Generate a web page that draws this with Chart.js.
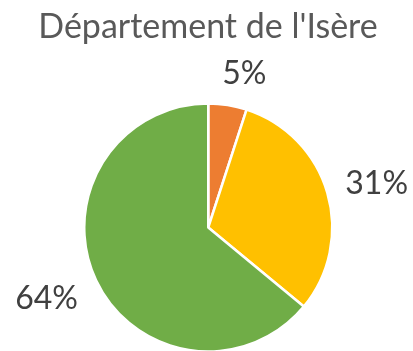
<!DOCTYPE html>
<html>
<head>
<meta charset="utf-8">
<script src="https://cdn.jsdelivr.net/npm/chart.js@4/dist/chart.umd.min.js"></script>
<style>
  html, body { margin: 0; padding: 0; background: #ffffff; overflow: hidden; }
  #wrap { width: 413px; height: 353px; position: relative; }
</style>
</head>
<body>
<div id="wrap"><canvas id="chart" width="413" height="353"></canvas></div>
<script>
// Share of each slice, in percent
const categories = ['A', 'B', 'C'];
const shares = [5, 31, 64];
const sliceColors = ['#ED7D31', '#FFC000', '#70AD47'];
const chartTitle = "Département de l'Isère";

// Draws the title and the percentage labels just outside each slice
const outsideLabels = {
  id: 'outsideLabels',
  afterDatasetsDraw(chart, args, opts) {
    const ctx = chart.ctx;
    ctx.save();
    // title
    ctx.font = opts.titleFont;
    ctx.fillStyle = opts.titleColor;
    ctx.textAlign = 'center';
    ctx.textBaseline = 'alphabetic';
    ctx.fillText(chartTitle, opts.titleX, opts.titleY);

    // slice labels
    ctx.font = opts.labelFont;
    ctx.fillStyle = opts.labelColor;
    ctx.textBaseline = 'middle';
    const meta = chart.getDatasetMeta(0);
    meta.data.forEach((arc, i) => {
      const p = arc.getProps(['x', 'y', 'startAngle', 'endAngle', 'outerRadius'], true);
      const mid = (p.startAngle + p.endAngle) / 2;
      const cos = Math.cos(mid), sin = Math.sin(mid);
      const text = shares[i] + '%';
      const hw = ctx.measureText(text).width / 2;
      const hh = opts.labelHalfHeight;
      const r = p.outerRadius + opts.gap;
      const n = opts.nudge[i] || [0, 0];
      const cx = p.x + cos * r + cos * hw + n[0];
      const cy = p.y + sin * r + sin * hh + n[1];
      ctx.fillText(text, cx, cy);
    });
    ctx.restore();
  }
};

new Chart(document.getElementById('chart'), {
  type: 'pie',
  data: {
    labels: categories,
    datasets: [{
      data: shares,
      backgroundColor: sliceColors,
      borderColor: '#ffffff',
      borderWidth: 2.5
    }]
  },
  options: {
    responsive: false,
    animation: false,
    layout: { padding: { top: 102, left: 83, right: 79.5, bottom: 0 } },
    plugins: {
      legend: { display: false },
      tooltip: { enabled: false },
      title: { display: false },
      outsideLabels: {
        titleFont: '34px Lato, "Liberation Sans", sans-serif',
        titleColor: '#595959',
        titleX: 208,
        titleY: 38,
        labelFont: '32px Lato, "Liberation Sans", sans-serif',
        labelColor: '#404040',
        labelHalfHeight: 12,
        gap: 20,
        nudge: [[10, 0], [0, 0], [-3, 5]]
      }
    }
  },
  plugins: [outsideLabels]
});
</script>
</body>
</html>
